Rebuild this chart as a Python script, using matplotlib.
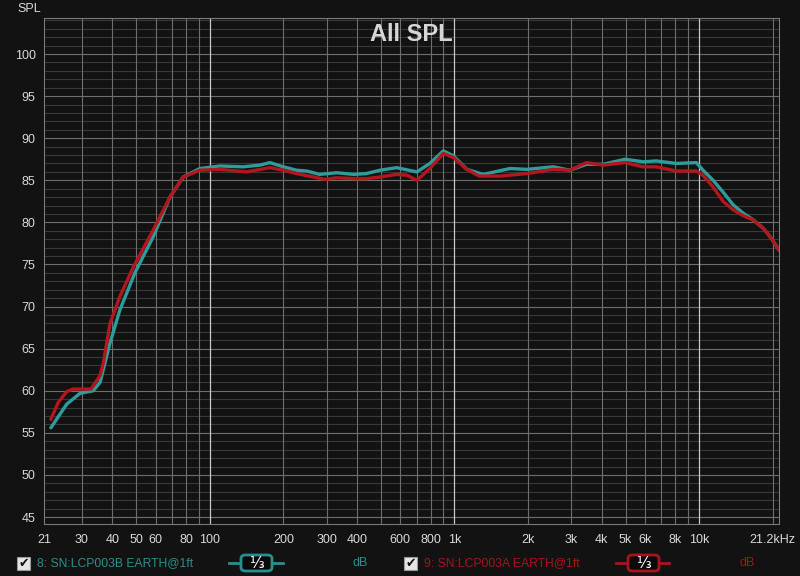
import numpy as np
import matplotlib
matplotlib.use("Agg")
import matplotlib.pyplot as plt
import matplotlib.transforms as mtransforms
from matplotlib.patches import FancyBboxPatch, Rectangle
from matplotlib.lines import Line2D

# series 8: SN:LCP003B (teal)
freq_b = [22.4, 26, 29.5, 33.4, 35.6, 39.1, 42.9, 49.4, 58.7, 68.7, 77.9, 91, 110, 137, 160,
          176, 200, 226, 249, 281, 330, 387, 437, 496, 580, 702, 793, 900, 990, 1123, 1309,
          1686, 1973, 2533, 2960, 3465, 4055, 4980, 5900, 6680, 8060, 9740, 10370, 11400,
          12520, 13760, 15120, 16630, 18280, 19740, 21200]
spl_b = [55.6, 58.4, 59.7, 60.0, 61.0, 65.7, 69.6, 74.0, 78.3, 83.0, 85.4, 86.4, 86.7, 86.6, 86.8,
         87.1, 86.6, 86.2, 86.1, 85.7, 85.9, 85.7, 85.8, 86.2, 86.5, 86.0, 87.0, 88.5, 87.9, 86.3, 85.7,
         86.4, 86.3, 86.6, 86.2, 86.9, 86.9, 87.5, 87.2, 87.3, 87.0, 87.1, 86.2, 85.0,
         83.6, 82.1, 81.1, 80.3, 79.3, 78.1, 76.7]

# series 9: SN:LCP003A (red)
freq_a = [22.4, 24, 26, 27.6, 32.7, 35.6, 36.7, 39.1, 42.9, 48.7, 58.7, 68.7, 77.9, 91, 110,
          141, 176, 200, 226, 265, 295, 330, 387, 437, 496, 580, 640, 702, 793, 900, 990, 1123,
          1260, 1535, 1973, 2533, 2960, 3465, 4055, 4980, 5900, 6680, 8060, 9740, 10370,
          11400, 12520, 13760, 15120, 16630, 18280, 19740, 21200]
spl_a = [56.6, 58.6, 59.9, 60.2, 60.2, 61.8, 63.3, 68.0, 71.2, 74.7, 79.1, 83.0, 85.4, 86.2, 86.3,
         86.0, 86.5, 86.2, 85.8, 85.4, 85.1, 85.3, 85.2, 85.2, 85.4, 85.7, 85.6, 85.0, 86.4, 88.2, 87.7, 86.3,
         85.5, 85.5, 85.8, 86.3, 86.2, 87.1, 86.8, 87.1, 86.6, 86.6, 86.1, 86.1, 85.6,
         84.2, 82.5, 81.5, 80.8, 80.3, 79.3, 78.1, 76.7]

xtick_pos = [21, 30, 40, 50, 60, 80, 100, 200, 300, 400, 600, 800, 1000, 2000, 3000,
             4000, 5000, 6000, 8000, 10000, 21200]
xtick_lab = ["21", "30", "40", "50", "60", "80", "100", "200", "300", "400", "600", "800", "1k",
             "2k", "3k", "4k", "5k", "6k", "8k", "10k", "21.2kHz"]
xgrid = [30, 40, 50, 60, 70, 80, 90, 200, 300, 400, 500, 600, 700, 800, 900,
         2000, 3000, 4000, 5000, 6000, 7000, 8000, 9000, 20000]
xdecades = [100, 1000, 10000]

BG = "#121212"
TEAL = "#2f9c9c"
RED = "#b3161c"
TXT = "#d8d8d8"

fig = plt.figure(figsize=(8, 5.76), dpi=100, facecolor=BG)
ax = fig.add_axes([44/800, 1-524/576, 735/800, 506/576])
ax.set_facecolor(BG)
ax.set_axisbelow(True)
ax.set_xscale("log")
ax.set_xlim(21, 21200)
ax.set_ylim(44.17, 104.28)

# grid
ax.set_yticks(np.arange(45, 101, 5))
ax.set_yticks(np.arange(45, 105, 1), minor=True)
ax.grid(True, axis="y", which="major", color="#6e6e6e", lw=0.8)
ax.grid(True, axis="y", which="minor", color="#383838", lw=0.8)
for f in xgrid:
    ax.axvline(f, color="#6e6e6e", lw=0.8, zorder=2)
for f in xdecades:
    ax.axvline(f, color="#c8c8c8", lw=0.9, zorder=2)

ax.set_xticks(xtick_pos)
ax.set_xticklabels(xtick_lab)
ax.xaxis.set_minor_locator(matplotlib.ticker.NullLocator())
ax.tick_params(axis="both", which="both", length=0, colors=TXT, labelsize=9)
ax.tick_params(axis="x", pad=7)
ax.tick_params(axis="y", pad=6)
for lab in ax.get_xticklabels() + ax.get_yticklabels():
    lab.set_fontfamily("Liberation Sans")
    lab.set_color(TXT)
last = ax.get_xticklabels()[-1]
last.set_transform(last.get_transform() +
                   mtransforms.ScaledTranslation(-0.07, 0, fig.dpi_scale_trans))

for s in ax.spines.values():
    s.set_color("#7a7a7a")
    s.set_linewidth(0.8)

ax.plot(freq_b, spl_b, color=TEAL, lw=2.4, zorder=3, solid_joinstyle="round", solid_capstyle="round")
ax.plot(freq_a, spl_a, color=RED, lw=2.4, zorder=4, solid_joinstyle="round", solid_capstyle="round")

ax.text(0.5, 0.968, "All SPL", transform=ax.transAxes, ha="center", va="center",
        fontsize=17, fontweight="bold", color="#d6d6d6", family="Liberation Sans", zorder=5)
fig.text(17/800, 1-9/576, "SPL", ha="left", va="center", fontsize=9, color=TXT,
         family="Liberation Sans")

# legend row
def px(x, y):
    return x/800, 1-y/576

def legend_item(x0, name, color, line_x, box_x, db_x):
    ymid = 563
    cb = Rectangle(px(x0, ymid+6.5), 13/800, 13/576, transform=fig.transFigure,
                   facecolor="#e6e6e6", edgecolor="#9a9a9a", lw=0.8)
    fig.patches.append(cb)
    fig.text(*px(x0+6.8, ymid), "\u2714", ha="center", va="center", fontsize=9,
             color="#111111", family="DejaVu Sans")
    fig.text(*px(x0+20, ymid), name, ha="left", va="center", fontsize=8.7, color=color,
             family="Liberation Sans")
    fig.lines.append(Line2D([line_x[0]/800, line_x[1]/800], [1-ymid/576]*2,
                            transform=fig.transFigure, color=color, lw=2))
    box = FancyBboxPatch(px(box_x[0], ymid+8), (box_x[1]-box_x[0])/800, 16/576,
                         boxstyle="round,pad=0,rounding_size=0.006", transform=fig.transFigure,
                         facecolor="#0a0a0a", edgecolor=color, lw=2, zorder=3)
    fig.patches.append(box)
    fig.text(*px((box_x[0]+box_x[1])/2, ymid), "\u2153", ha="center", va="center",
             fontsize=11, color="#ffffff", family="DejaVu Sans", zorder=4)
    fig.text(*px(db_x, ymid), "dB", ha="center", va="center", fontsize=9, color=color,
             family="Liberation Sans")

legend_item(17, "8: SN:LCP003B EARTH@1ft", "#2a8e8e", (229, 283), (241, 272), 360)
legend_item(404, "9: SN:LCP003A EARTH@1ft", "#a8141a", (616, 669), (628, 659), 747)

fig.savefig("out.png", dpi=100, facecolor=BG)
